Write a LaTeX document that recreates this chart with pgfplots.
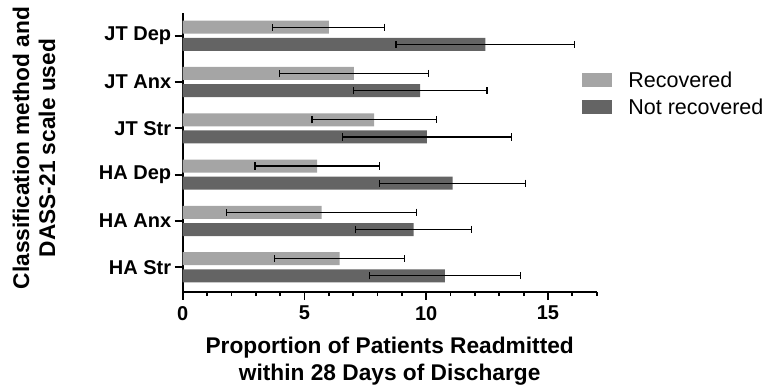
\documentclass[border=0pt]{standalone}
\usepackage{fontspec}
\setmainfont{Liberation Sans}
\usepackage{pgfplots}
\pgfplotsset{compat=1.18}
\definecolor{rec}{HTML}{A5A5A5}
\definecolor{notrec}{HTML}{646464}
\begin{document}
\begin{tikzpicture}[x=1pt,y=1pt]
\useasboundingbox (-182.7,-94.3) rectangle (588.3,291.7);
\begin{axis}[
  at={(0,0)}, anchor=south west,
  scale only axis, width=414pt, height=278.4pt,
  xbar,
  xmin=0, xmax=17, ymin=-0.529, ymax=5.486,
  axis lines*=left,
  axis line style={line width=2pt},
  xtick={0,5,10,15}, minor xtick={1,2,3,4,6,7,8,9,11,12,13,14,16,17},
  ytick={0,1,2,3,4,5},
  yticklabels={HA Str, HA Anx, HA Dep, JT Str, JT Anx, JT Dep},
  tick align=outside,
  major tick length=8pt, minor tick length=4.5pt,
  tick style={line width=1.8pt, black},
  minor tick style={line width=1.8pt, black},
  /pgf/number format/assume math mode=true,
  ticklabel style={font=\fontsize{20}{24}\selectfont\bfseries},
  xticklabel style={yshift=-3pt},
  xlabel={Proportion of Patients Readmitted\\within 28 Days of Discharge},
  xlabel style={font=\fontsize{22.7}{26.5}\selectfont\bfseries, align=center,
    at={(axis description cs:0.5,0)}, anchor=north, yshift=-42pt},
  ylabel={Classification method and\\DASS-21 scale used},
  ylabel style={font=\fontsize{22.7}{26}\selectfont\bfseries, align=center,
    at={(axis description cs:-0.359,0.516)}, anchor=center, rotate=0},
  bar width=13pt,
  legend style={draw=none, fill=none, at={(axis description cs:0.965,0.806)}, anchor=north west,
    font=\fontsize{21.5}{24}\selectfont, row sep=6pt, inner xsep=0pt},
  legend cell align=left,
  error bars/error bar style={line width=1.3pt, black},
  error bars/error mark=|,
  error bars/error mark options={line width=1.3pt, black, mark size=3.6pt},
]
\addplot[fill=rec, draw=none, bar shift=8.6pt,
  legend image code/.code={\fill[rec] (0pt,-7pt) rectangle (30pt,7pt); \path (44pt,0pt);},
  error bars/.cd, x dir=both, x explicit]
  coordinates {
  (6.44,0) +- (2.66,0)
  (5.70,1) +- (3.91,0)
  (5.52,2) +- (2.55,0)
  (7.86,3) +- (2.55,0)
  (7.03,4) +- (3.06,0)
  (6.00,5) +- (2.30,0)
  };
\addlegendentry{Recovered}
\addplot[fill=notrec, draw=none, bar shift=-8.6pt,
  legend image code/.code={\fill[notrec] (0pt,-7pt) rectangle (30pt,7pt); \path (44pt,0pt);},
  error bars/.cd, x dir=both, x explicit]
  coordinates {
  (10.77,0) +- (3.10,0)
  (9.48,1) +- (2.37,0)
  (11.08,2) +- (3.00,0)
  (10.03,3) +- (3.46,0)
  (9.75,4) +- (2.75,0)
  (12.43,5) +- (3.67,0)
  };
\addlegendentry{Not recovered}
\end{axis}
\end{tikzpicture}
\end{document}
